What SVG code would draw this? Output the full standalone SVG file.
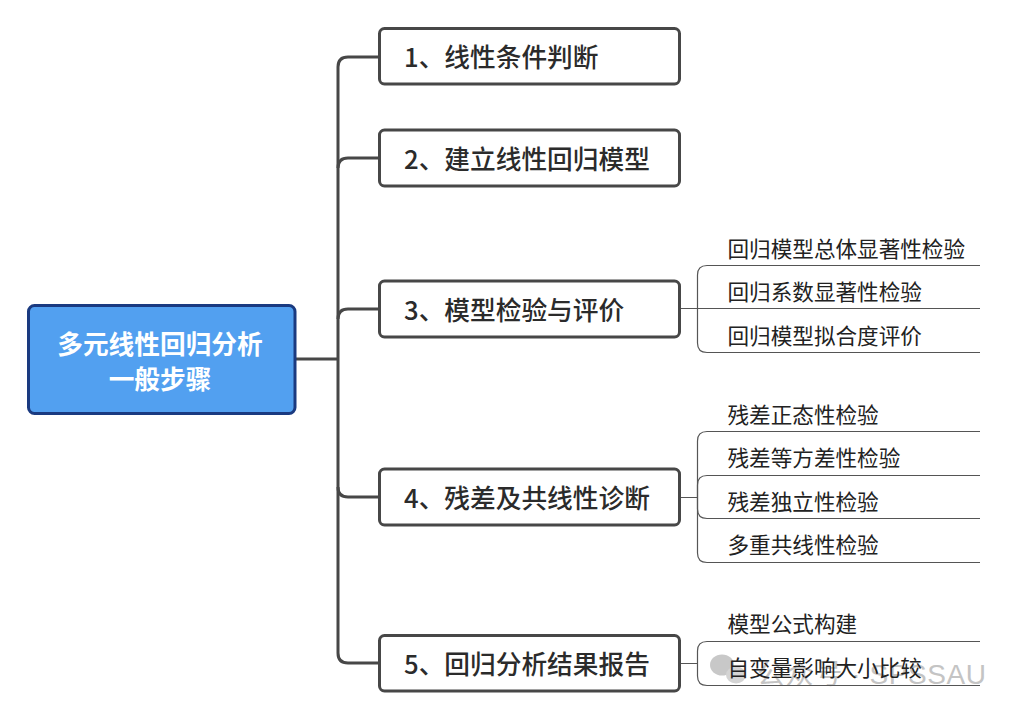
<svg xmlns="http://www.w3.org/2000/svg" width="1018" height="714" viewBox="0 0 1018 714">
<style>
text{font-family:"Noto Sans CJK SC","Liberation Sans",sans-serif}
.c{fill:none;stroke:#474747;stroke-width:3}
.s{fill:none;stroke:#555;stroke-width:1.2}
.box{fill:#fff;stroke:#474747;stroke-width:3}
.main{font-size:25.7px;font-weight:500;fill:#2b2b2b}
.sub{font-size:21.6px;fill:#222}
.root{font-size:25.7px;font-weight:700;fill:#fff;text-anchor:middle}
.wm{font-family:"Liberation Sans","Noto Sans CJK SC",sans-serif;font-size:28px;fill:#c4c4c4}
</style>
<rect width="1018" height="714" fill="#fff"/>
<g id="watermark">
<ellipse cx="722" cy="665" rx="12" ry="10.500" fill="#c8c8c8"/>
<ellipse cx="736" cy="675" rx="10" ry="8.500" fill="#d4d4d4"/>
<text class="wm" x="757" y="684" letter-spacing="0.600">公众号 · SPSSAU</text>
</g>
<g id="connectors">
<path class="c" d="M295 359H338"/>
<path class="c" d="M379 57H348Q338 57 338 67V653Q338 663 348 663H379"/>
<path class="c" d="M379 158H348Q338 158 338 168"/>
<path class="c" d="M379 309H348Q338 309 338 319"/>
<path class="c" d="M379 497H348Q338 497 338 487"/>
<path class="s" d="M680 308.500H980M980 265.500H707Q697.500 265.500 697.500 275V343Q697.500 352.500 707 352.500H980"/>
<path class="s" d="M680 497.500H697.500M980 431.500H707Q697.500 431.500 697.500 441V553Q697.500 562.500 707 562.500H980"/>
<path class="s" d="M980 475.500H707Q697.500 475.500 697.500 485V509Q697.500 518.500 707 518.500H980"/>
<path class="s" d="M680 663.500H697.500M980 641.500H707Q697.500 641.500 697.500 651V676Q697.500 685.500 707 685.500H980"/>
</g>
<g id="root">
<rect x="28.500" y="305.500" width="266.500" height="108" rx="6" fill="#52a0f0" stroke="#1a3a80" stroke-width="3"/>
<text class="root" x="160" y="354">多元线性回归分析</text>
<text class="root" x="160" y="389">一般步骤</text>
</g>
<g id="n1"><rect class="box" x="379.500" y="28.500" width="300" height="55.500" rx="5"/><text class="main" x="404" y="67">1、线性条件判断</text></g>
<g id="n2"><rect class="box" x="379.500" y="130" width="300" height="56" rx="5"/><text class="main" x="404" y="169">2、建立线性回归模型</text></g>
<g id="n3"><rect class="box" x="379.500" y="281" width="300" height="56" rx="5"/><text class="main" x="404" y="320">3、模型检验与评价</text></g>
<g id="n4"><rect class="box" x="379.500" y="469" width="300" height="56" rx="5"/><text class="main" x="404" y="507.500">4、残差及共线性诊断</text></g>
<g id="n5"><rect class="box" x="379.500" y="635.500" width="300" height="55.500" rx="5"/><text class="main" x="404" y="674">5、回归分析结果报告</text></g>
<g id="s31"><text class="sub" x="727.500" y="256.500">回归模型总体显著性检验</text></g>
<g id="s32"><text class="sub" x="727.500" y="299.500">回归系数显著性检验</text></g>
<g id="s33"><text class="sub" x="727.500" y="343.500">回归模型拟合度评价</text></g>
<g id="s41"><text class="sub" x="727.500" y="422.500">残差正态性检验</text></g>
<g id="s42"><text class="sub" x="727.500" y="466">残差等方差性检验</text></g>
<g id="s43"><text class="sub" x="727.500" y="509.500">残差独立性检验</text></g>
<g id="s44"><text class="sub" x="727.500" y="552.500">多重共线性检验</text></g>
<g id="s51"><text class="sub" x="727.500" y="632">模型公式构建</text></g>
<g id="s52"><text class="sub" x="727.500" y="676">自变量影响大小比较</text></g>
</svg>
